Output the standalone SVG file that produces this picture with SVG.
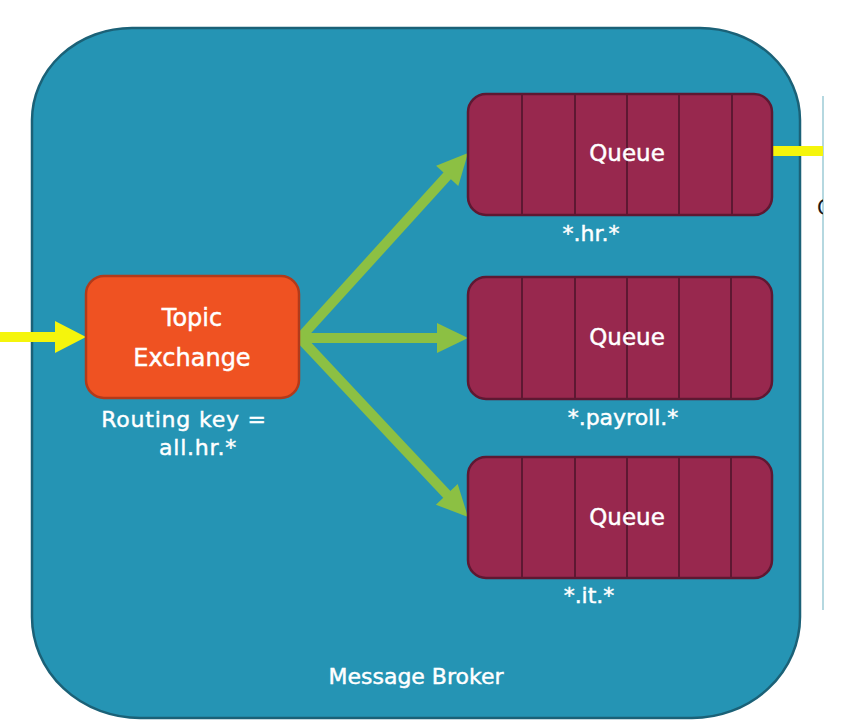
<svg xmlns="http://www.w3.org/2000/svg" width="846" height="727" viewBox="0 0 846 727">
  <defs>
    <style>
      .lbl { font-family: "DejaVu Sans", "Liberation Sans", sans-serif; fill: #ffffff; text-anchor: middle; stroke: #ffffff; stroke-width: 0.45; }
      .queue-box { fill: #98284e; stroke: #5e1832; stroke-width: 2.5; }
      .div { stroke: #5e1832; stroke-width: 2; }
      .green { fill: #8cc043; }
      .gshaft { stroke: #8cc043; stroke-width: 10; fill: none; }
    </style>
    <clipPath id="edgeclip"><rect x="800" y="180" width="23" height="60"/></clipPath>
  </defs>
  <rect width="846" height="727" fill="#ffffff"/>

  <g id="broker">
    <path d="M 132 28 L 700 28 A 100 92 0 0 1 800 120 L 800 617 A 108 101 0 0 1 692 718 L 140 718 A 108 101 0 0 1 32 617 L 32 120 A 100 92 0 0 1 132 28 Z" fill="#2594b4" stroke="#1b6177" stroke-width="2.5"/>
    <text class="lbl" x="416" y="684" font-size="22">Message Broker</text>
  </g>

  <g id="side-panel">
    <line x1="823" y1="96" x2="823" y2="610" stroke="#9ccbd6" stroke-width="1.5"/>
    <text x="817" y="215" font-family="DejaVu Sans, sans-serif" font-size="21" fill="#1a1a1a" clip-path="url(#edgeclip)">C</text>
  </g>

  <g id="connectors">
    <!-- incoming yellow -->
    <rect x="0" y="332" width="58" height="10" fill="#f5f50c"/>
    <polygon points="55,321 86,337 55,353" fill="#f5f50c"/>
    <!-- outgoing yellow -->
    <rect x="772" y="146" width="51" height="10" fill="#f5f50c"/>
    <!-- green arrows -->
    <path class="gshaft" d="M 300 338 L 448.5 174.4"/>
    <polygon class="green" points="468,153 458.3,186 436.1,165.8"/>
    <path class="gshaft" d="M 300 338 L 440 338"/>
    <polygon class="green" points="468,338 437,323 437,353"/>
    <path class="gshaft" d="M 300 338 L 448.2 495.9"/>
    <polygon class="green" points="468,517 435.9,504.7 457.7,484.1"/>
  </g>

  <g id="topic-exchange">
    <rect x="86" y="276" width="213" height="122" rx="18" fill="#ef5222" stroke="#b33a1a" stroke-width="2.5"/>
    <text class="lbl" x="192" y="326" font-size="24">Topic</text>
    <text class="lbl" x="192" y="366" font-size="24">Exchange</text>
    <text class="lbl" x="184" y="427" font-size="22" letter-spacing="0.8">Routing key =</text>
    <text class="lbl" x="198" y="455" font-size="22" letter-spacing="0.8">all.hr.*</text>
  </g>

  <g id="queue-hr">
    <rect class="queue-box" x="468" y="94" width="304" height="121" rx="18"/>
    <line class="div" x1="522" y1="95" x2="522" y2="214"/>
    <line class="div" x1="575" y1="95" x2="575" y2="214"/>
    <line class="div" x1="627" y1="95" x2="627" y2="214"/>
    <line class="div" x1="679" y1="95" x2="679" y2="214"/>
    <line class="div" x1="732" y1="95" x2="732" y2="214"/>
    <text class="lbl" x="627" y="161" font-size="23">Queue</text>
    <text class="lbl" x="591" y="241" font-size="22">*.hr.*</text>
  </g>

  <g id="queue-payroll">
    <rect class="queue-box" x="468" y="277" width="304" height="122" rx="18"/>
    <line class="div" x1="522" y1="278" x2="522" y2="398"/>
    <line class="div" x1="575" y1="278" x2="575" y2="398"/>
    <line class="div" x1="627" y1="278" x2="627" y2="398"/>
    <line class="div" x1="679" y1="278" x2="679" y2="398"/>
    <line class="div" x1="731" y1="278" x2="731" y2="398"/>
    <text class="lbl" x="627" y="345" font-size="23">Queue</text>
    <text class="lbl" x="623" y="425" font-size="22">*.payroll.*</text>
  </g>

  <g id="queue-it">
    <rect class="queue-box" x="468" y="457" width="304" height="121" rx="18"/>
    <line class="div" x1="522" y1="458" x2="522" y2="577"/>
    <line class="div" x1="575" y1="458" x2="575" y2="577"/>
    <line class="div" x1="627" y1="458" x2="627" y2="577"/>
    <line class="div" x1="679" y1="458" x2="679" y2="577"/>
    <line class="div" x1="731" y1="458" x2="731" y2="577"/>
    <text class="lbl" x="627" y="525" font-size="23">Queue</text>
    <text class="lbl" x="589" y="603" font-size="22">*.it.*</text>
  </g>
</svg>
